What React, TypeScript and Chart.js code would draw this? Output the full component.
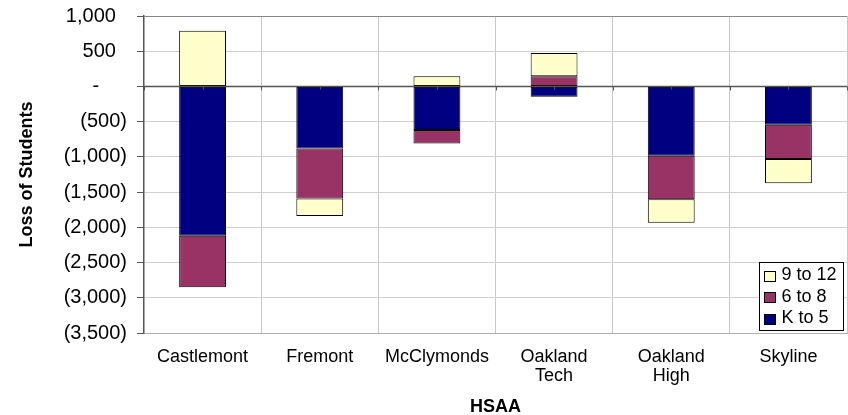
import React, { useEffect, useRef } from "react";
import { Chart, registerables } from "chart.js";

Chart.register(...registerables);

const categories: (string | string[])[] = [
  "Castlemont",
  "Fremont",
  "McClymonds",
  ["Oakland", "Tech"],
  ["Oakland", "High"],
  "Skyline",
];
const kTo5 = [-2120, -880, -620, -145, -985, -545];
const sixTo8 = [-730, -710, -190, 145, -615, -485];
const nineTo12 = [790, -250, 145, 330, -335, -345];

const yMin = -3500;
const yMax = 1000;
const yStep = 500;

const FONT = "'Liberation Sans', Arial, sans-serif";

const COLORS = {
  k5: "#000080",
  s8: "#993366",
  n12: "#FFFFCC",
};

function fmtTick(v: number): string {
  if (v === 0) return "-     ";
  const s = Math.abs(v).toLocaleString("en-US");
  return v < 0 ? `(${s})` : `${s}  `;
}

const legendItems = [
  { label: "9 to 12", color: COLORS.n12 },
  { label: "6 to 8", color: COLORS.s8 },
  { label: "K to 5", color: COLORS.k5 },
];

const axisPlugin = {
  id: "zeroAxisAndLegend",
  afterDatasetsDraw(chart: any) {
    const { ctx, chartArea, scales } = chart;
    const y0 = scales.y.getPixelForValue(0);
    const n = categories.length;
    const w = (chartArea.right - chartArea.left) / n;
    ctx.save();
    ctx.strokeStyle = "#555555";
    ctx.lineWidth = 1.5;
    ctx.beginPath();
    ctx.moveTo(chartArea.left, y0);
    ctx.lineTo(chartArea.right, y0);
    ctx.stroke();
    ctx.lineWidth = 1;
    ctx.beginPath();
    for (let i = 0; i <= n; i++) {
      const xb = Math.round(chartArea.left + i * w) + 0.5;
      ctx.moveTo(xb, y0);
      ctx.lineTo(xb, y0 + 4);
      if (i < n) {
        const xc = Math.round(chartArea.left + (i + 0.5) * w) + 0.5;
        ctx.moveTo(xc, y0);
        ctx.lineTo(xc, y0 + 3);
      }
    }
    ctx.stroke();
    ctx.restore();
  },
  afterDraw(chart: any) {
    const { ctx, chartArea } = chart;
    const bw = 84;
    const bh = 68;
    const bx = chartArea.right - 88 + 0.5;
    const by = chartArea.bottom - 71 + 0.5;
    ctx.save();
    ctx.fillStyle = "#ffffff";
    ctx.fillRect(bx, by, bw, bh);
    ctx.strokeStyle = "#000000";
    ctx.lineWidth = 1;
    ctx.strokeRect(bx, by, bw, bh);
    ctx.font = `18px ${FONT}`;
    ctx.textBaseline = "middle";
    ctx.textAlign = "left";
    legendItems.forEach((it, i) => {
      const cy = by + 13 + i * 21.5;
      ctx.fillStyle = it.color;
      ctx.fillRect(bx + 5, Math.round(cy - 5) + 0.5, 11, 10);
      ctx.strokeStyle = "#000000";
      ctx.strokeRect(bx + 5, Math.round(cy - 5) + 0.5, 11, 10);
      ctx.fillStyle = "#000000";
      ctx.fillText(it.label, bx + 22, cy);
    });
    ctx.restore();
  },
};

export default function App() {
  const ref = useRef<HTMLCanvasElement>(null);
  useEffect(() => {
    if (!ref.current) return;
    const ds = (label: string, data: number[], color: string) => ({
      label,
      data,
      backgroundColor: color,
      borderColor: "#000000",
      borderWidth: 1,
      borderSkipped: false,
      barPercentage: 0.4,
      categoryPercentage: 1.0,
    });
    const chart = new Chart(ref.current, {
      type: "bar",
      data: {
        labels: categories,
        datasets: [
          ds("K to 5", kTo5, COLORS.k5),
          ds("6 to 8", sixTo8, COLORS.s8),
          ds("9 to 12", nineTo12, COLORS.n12),
        ],
      },
      options: {
        responsive: false,
        animation: false,
        layout: { padding: { left: 0, right: 1, top: 16, bottom: 0 } },
        plugins: {
          legend: { display: false },
          tooltip: { enabled: false },
        },
        scales: {
          x: {
            stacked: true,
            grid: {
              display: true,
              offset: true,
              color: "#c8c8c8",
              drawTicks: false,
            },
            border: { display: true, color: "#b0b0b0" },
            ticks: {
              color: "#000000",
              font: { family: FONT, size: 18, lineHeight: 1.06 },
              padding: 14,
              maxRotation: 0,
              autoSkip: false,
            },
            title: {
              display: true,
              text: "HSAA",
              color: "#000000",
              font: { family: FONT, size: 18, weight: "bold", lineHeight: 1 },
              padding: { top: 0, bottom: -1 },
            },
            afterFit(scale: any) {
              scale.height = 82;
              scale.paddingLeft = 0;
              scale.paddingRight = 0;
            },
          },
          y: {
            stacked: true,
            min: yMin,
            max: yMax,
            ticks: {
              stepSize: yStep,
              color: "#000000",
              font: { family: FONT, size: 20, lineHeight: 1 },
              padding: 10,
              callback: (v: any) => fmtTick(Number(v)),
            },
            grid: {
              color: (c: any) =>
                c.tick && c.tick.value === yMax ? "#888888" : "#d0d0d0",
              tickLength: 7,
              tickColor: "#555555",
            },
            border: { display: true, color: "#555555", width: 1.5 },
            title: {
              display: true,
              text: "Loss of Students",
              color: "#000000",
              font: { family: FONT, size: 18, weight: "bold", lineHeight: 1 },
              padding: { top: 18, bottom: 0 },
            },
            afterFit(scale: any) {
              scale.width = 144;
              scale.paddingTop = 0;
              scale.paddingBottom = 0;
            },
          },
        },
      },
      plugins: [axisPlugin],
    });
    return () => chart.destroy();
  }, []);
  return (
    <div style={{ position: "absolute", left: 0, top: 0, width: 848, height: 415, background: "#fff" }}>
      <canvas ref={ref} width={848} height={415} style={{ display: "block" }} />
    </div>
  );
}
